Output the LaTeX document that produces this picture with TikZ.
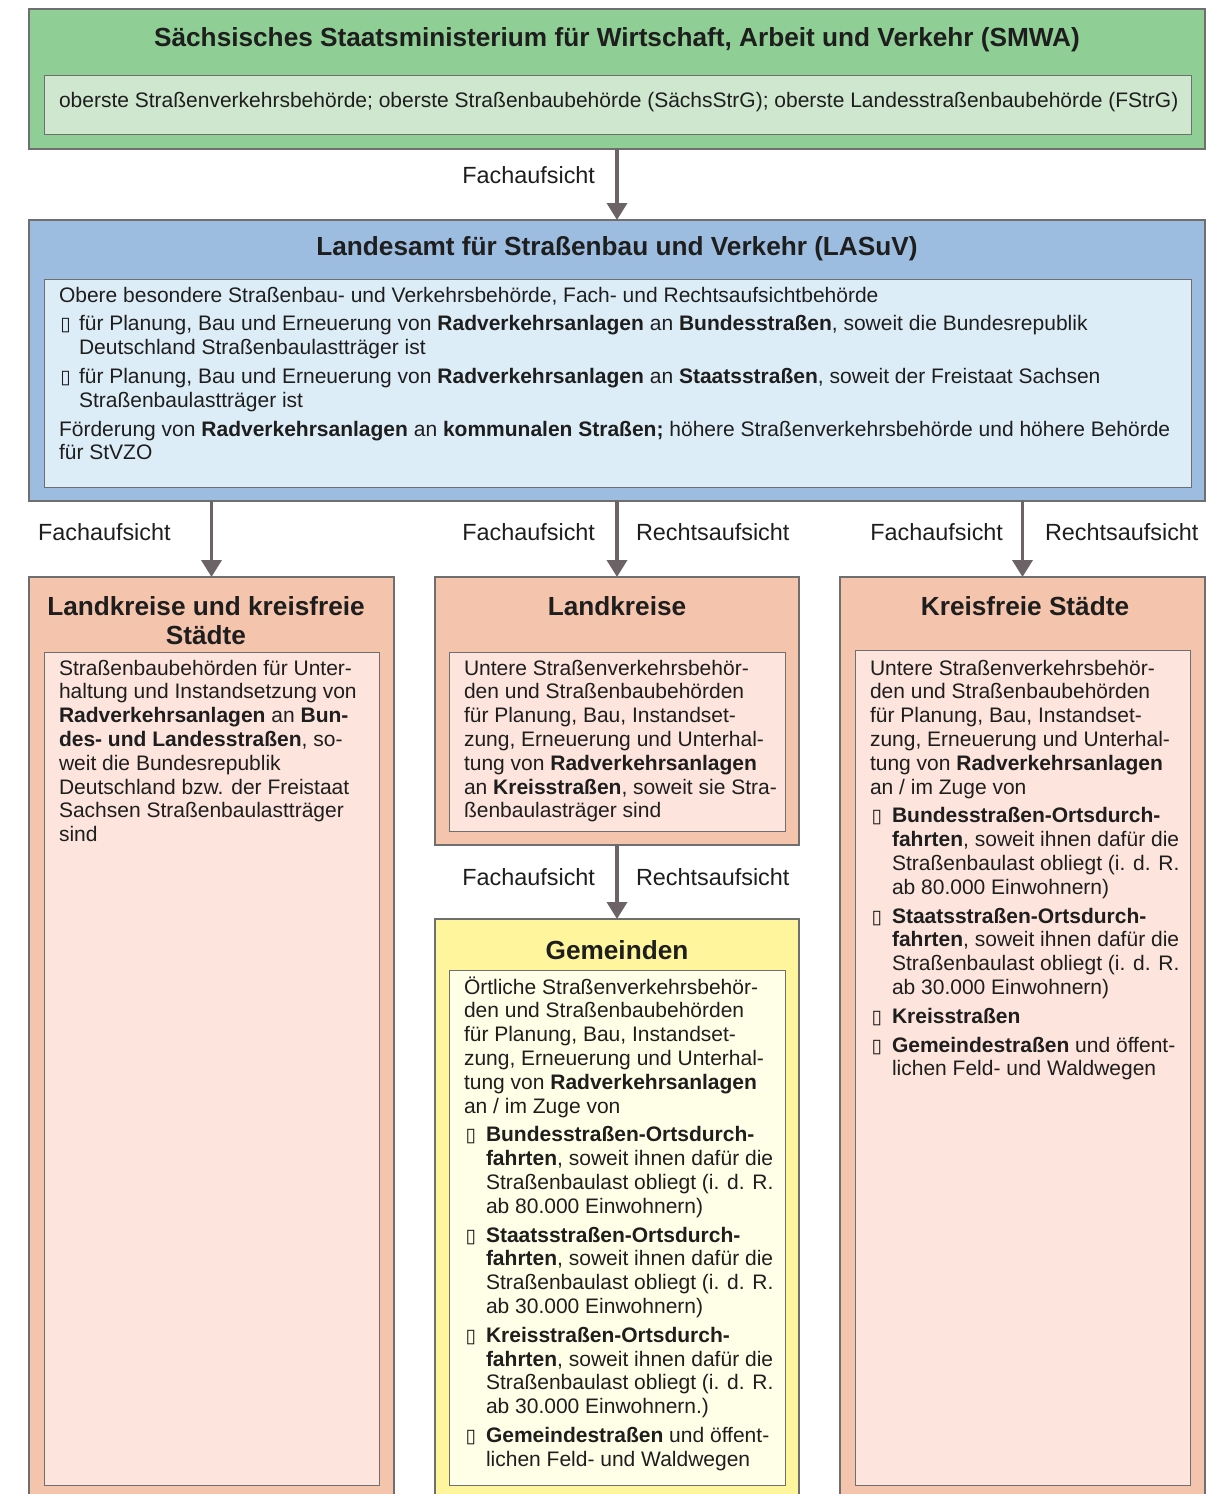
\documentclass[tikz,border=0pt]{standalone}
\usepackage{fontspec}
\setmainfont{Liberation Sans}
\newfontfamily\symf{DejaVu Sans}
\usetikzlibrary{arrows.meta}
\definecolor{grO}{HTML}{8FCE94}
\definecolor{grI}{HTML}{CFE6CF}
\definecolor{blO}{HTML}{9DBDE0}
\definecolor{blI}{HTML}{DDEDF7}
\definecolor{orO}{HTML}{F5C4AC}
\definecolor{orI}{HTML}{FDE4DC}
\definecolor{yeO}{HTML}{FFF59D}
\definecolor{yeI}{HTML}{FFFEE6}
\definecolor{bord}{HTML}{6F6F6F}
\definecolor{arrc}{HTML}{6B6365}
\definecolor{txt}{HTML}{1E1E1E}
\newcommand\bodyf{\fontsize{21}{23.8}\selectfont}
\newcommand\titf{\fontsize{26.2}{29}\selectfont\bfseries}
\newcommand\labf{\fontsize{23.4}{26}\selectfont}
\newcommand\bul{{\symf\fontsize{19}{19}\selectfont ▯}}
\newcommand\bitem[1][22pt]{\par\hangindent=#1\hangafter=1\noindent\makebox[#1][l]{\hspace{1.5pt}\bul}}
\newenvironment{boxtext}[1]{\begin{minipage}[t]{#1}\bodyf\setlength\parindent{0pt}\setlength\parskip{5pt}\noindent}{\end{minipage}}
\begin{document}
\begin{tikzpicture}[x=1pt,y=-1pt,
  every node/.style={inner sep=0pt,outer sep=0pt,text=txt},
  obox/.style={draw=bord,line width=1.2pt,rectangle},
  ibox/.style={draw=bord,line width=1pt,rectangle},
  arr/.style={draw=arrc,line width=3.6pt,-{Triangle[length=17pt,width=20pt]}},
  ttl/.style={font=\titf,align=center,anchor=base},
  lab/.style={font=\labf},
  btxt/.style={anchor=base west}]
\useasboundingbox (0,0) rectangle (1218,1494);
% boxes
\node[obox,fill=grO,minimum width=1176pt,minimum height=140pt] (smwa) at (617,79) {};
\node[ibox,fill=grI,minimum width=1147pt,minimum height=59pt] (smwaI) at (617.5,104.5) {};
\node[obox,fill=blO,minimum width=1176pt,minimum height=281pt] (lasuv) at (617,360.5) {};
\node[ibox,fill=blI,minimum width=1147pt,minimum height=208pt] (lasuvI) at (617.5,383) {};
\node[obox,fill=orO,minimum width=365pt,minimum height=925pt] (lkks) at (211.5,1039.5) {};
\node[ibox,fill=orI,minimum width=335pt,minimum height=833pt] (lkksI) at (211.5,1068.5) {};
\node[obox,fill=orO,minimum width=364pt,minimum height=268pt] (lk) at (617,711) {};
\node[ibox,fill=orI,minimum width=336pt,minimum height=179pt] (lkI) at (617,741.5) {};
\node[obox,fill=yeO,minimum width=364pt,minimum height=583pt] (gem) at (617,1210.5) {};
\node[ibox,fill=yeI,minimum width=336pt,minimum height=515pt] (gemI) at (617,1227.5) {};
\node[obox,fill=orO,minimum width=365pt,minimum height=925pt] (kfs) at (1022.5,1039.5) {};
\node[ibox,fill=orI,minimum width=335pt,minimum height=835pt] (kfsI) at (1022.5,1067.5) {};
% titles
\node[ttl] (smwaT) at (617,46) {Sächsisches Staatsministerium für Wirtschaft, Arbeit und Verkehr (SMWA)};
\node[ttl] (lasuvT) at (617,255) {Landesamt für Straßenbau und Verkehr (LASuV)};
\node[ttl] (lkksT) at (206,615) {Landkreise und kreisfreie};
\node[ttl] (lkksT2) at (206,644) {Städte};
\node[ttl] (lkT) at (617,615) {Landkreise};
\node[ttl] (kfsT) at (1025,615) {Kreisfreie Städte};
\node[ttl] (gemT) at (617,959) {Gemeinden};
% texts
\node[btxt,font=\bodyf] (smwaX) at (59,107) {oberste Straßenverkehrsbehörde; oberste Straßenbaubehörde (SächsStrG); oberste Landesstraßenbaubehörde (FStrG)};
\node[btxt] (lasuvX) at (59,302) {\begin{boxtext}{1125pt}%
\mbox{Obere besondere Straßenbau- und Verkehrsbehörde, Fach- und Rechtsaufsichtbehörde}
\bitem[20pt]\mbox{für Planung, Bau und Erneuerung von \textbf{Radverkehrsanlagen} an \textbf{Bundesstraßen}, soweit die Bundesrepublik}\\
\mbox{Deutschland Straßenbaulastträger ist}
\bitem[20pt]\mbox{für Planung, Bau und Erneuerung von \textbf{Radverkehrsanlagen} an \textbf{Staatsstraßen}, soweit der Freistaat Sachsen}\\
\mbox{Straßenbaulastträger ist}
\par\noindent\mbox{Förderung von \textbf{Radverkehrsanlagen} an \textbf{kommunalen Straßen;} höhere Straßenverkehrsbehörde und höhere Behörde}\\
\mbox{für StVZO}
\end{boxtext}};
\node[btxt] (lkksX) at (59,675) {\begin{boxtext}{315pt}%
\mbox{Straßenbaubehörden für Unter-}\\
\mbox{haltung und Instandsetzung von}\\
\mbox{\textbf{Radverkehrsanlagen} an \textbf{Bun-}}\\
\mbox{\textbf{des- und Landesstraßen}, so-}\\
\mbox{weit die Bundesrepublik}\\
\mbox{Deutschland bzw. der Freistaat}\\
\mbox{Sachsen Straßenbaulastträger}\\
\mbox{sind}
\end{boxtext}};
\node[btxt] (lkX) at (464,675) {\begin{boxtext}{315pt}%
\mbox{Untere Straßenverkehrsbehör-}\\
\mbox{den und Straßenbaubehörden}\\
\mbox{für Planung, Bau, Instandset-}\\
\mbox{zung, Erneuerung und Unterhal-}\\
\mbox{tung von \textbf{Radverkehrsanlagen}}\\
\mbox{an \textbf{Kreisstraßen}, soweit sie Stra-}\\
\mbox{ßenbaulasträger sind}
\end{boxtext}};
\node[btxt] (kfsX) at (870,675) {\begin{boxtext}{315pt}%
\mbox{Untere Straßenverkehrsbehör-}\\
\mbox{den und Straßenbaubehörden}\\
\mbox{für Planung, Bau, Instandset-}\\
\mbox{zung, Erneuerung und Unterhal-}\\
\mbox{tung von \textbf{Radverkehrsanlagen}}\\
\mbox{an / im Zuge von}
\bitem\mbox{\textbf{Bundesstraßen-Ortsdurch-}}\\
\mbox{\textbf{fahrten}, soweit ihnen dafür die}\\
\mbox{Straßenbaulast obliegt (i. d. R.}\\
\mbox{ab 80.000 Einwohnern)}
\bitem\mbox{\textbf{Staatsstraßen-Ortsdurch-}}\\
\mbox{\textbf{fahrten}, soweit ihnen dafür die}\\
\mbox{Straßenbaulast obliegt (i. d. R.}\\
\mbox{ab 30.000 Einwohnern)}
\bitem\mbox{\textbf{Kreisstraßen}}
\bitem\mbox{\textbf{Gemeindestraßen} und öffent-}\\
\mbox{lichen Feld- und Waldwegen}
\end{boxtext}};
\node[btxt] (gemX) at (464,994) {\begin{boxtext}{315pt}%
\mbox{Örtliche Straßenverkehrsbehör-}\\
\mbox{den und Straßenbaubehörden}\\
\mbox{für Planung, Bau, Instandset-}\\
\mbox{zung, Erneuerung und Unterhal-}\\
\mbox{tung von \textbf{Radverkehrsanlagen}}\\
\mbox{an / im Zuge von}
\bitem\mbox{\textbf{Bundesstraßen-Ortsdurch-}}\\
\mbox{\textbf{fahrten}, soweit ihnen dafür die}\\
\mbox{Straßenbaulast obliegt (i. d. R.}\\
\mbox{ab 80.000 Einwohnern)}
\bitem\mbox{\textbf{Staatsstraßen-Ortsdurch-}}\\
\mbox{\textbf{fahrten}, soweit ihnen dafür die}\\
\mbox{Straßenbaulast obliegt (i. d. R.}\\
\mbox{ab 30.000 Einwohnern)}
\bitem\mbox{\textbf{Kreisstraßen-Ortsdurch-}}\\
\mbox{\textbf{fahrten}, soweit ihnen dafür die}\\
\mbox{Straßenbaulast obliegt (i. d. R.}\\
\mbox{ab 30.000 Einwohnern.)}
\bitem\mbox{\textbf{Gemeindestraßen} und öffent-}\\
\mbox{lichen Feld- und Waldwegen}
\end{boxtext}};
% connectors
\draw[arr] (smwa.south) -- (lasuv.north);
\draw[arr] (lkks.north |- lasuv.south) -- (lkks.north);
\draw[arr] (lk.north |- lasuv.south) -- (lk.north);
\draw[arr] (kfs.north |- lasuv.south) -- (kfs.north);
\draw[arr] (lk.south) -- (gem.north);
% labels
\node[lab,anchor=base east] (l1) at (595,183) {Fachaufsicht};
\node[lab,anchor=base west] (l2) at (38,540) {Fachaufsicht};
\node[lab,anchor=base east] (l3) at (595,540) {Fachaufsicht};
\node[lab,anchor=base west] (l4) at (636,540) {Rechtsaufsicht};
\node[lab,anchor=base east] (l5) at (1003,540) {Fachaufsicht};
\node[lab,anchor=base west] (l6) at (1045,540) {Rechtsaufsicht};
\node[lab,anchor=base east] (l7) at (595,885) {Fachaufsicht};
\node[lab,anchor=base west] (l8) at (636,885) {Rechtsaufsicht};
\end{tikzpicture}
\end{document}
